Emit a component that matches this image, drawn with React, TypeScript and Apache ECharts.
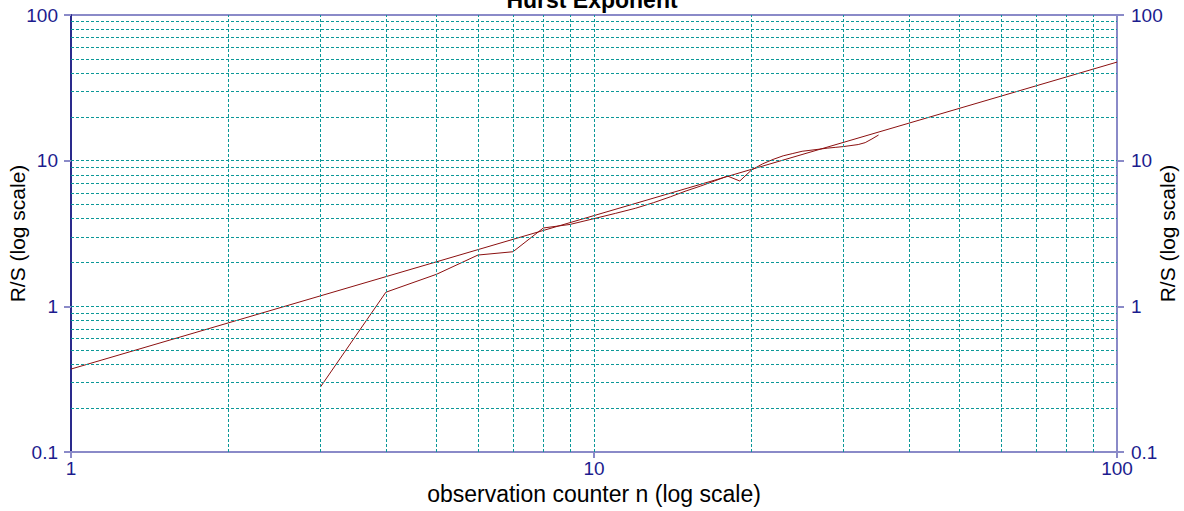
import React, { useEffect, useRef } from "react";
import * as echarts from "echarts";

const xTicks = [1, 10, 100];
const yTicks = [0.1, 1, 10, 100];
const xGrid = [2, 3, 4, 5, 6, 7, 8, 9, 10, 20, 30, 40, 50, 60, 70, 80, 90];
const yGrid = [0.2, 0.3, 0.4, 0.5, 0.6, 0.7, 0.8, 0.9, 1, 2, 3, 4, 5, 6, 7, 8, 9, 10, 20, 30, 40, 50, 60, 70, 80, 90];

const obsN = [3, 4, 5, 6, 7, 8, 9, 10, 11, 12, 13, 14, 15, 16, 17, 18, 19, 20, 21, 22, 23, 24, 25, 26, 27, 28, 29, 30, 31, 32, 33, 34, 35];
const obsRS = [0.28, 1.25, 1.66, 2.25, 2.37, 3.45, 3.65, 4.0, 4.35, 4.71, 5.15, 5.65, 6.2, 6.7, 7.25, 7.84, 7.25, 8.62, 9.5, 10.2, 10.8, 11.2, 11.6, 11.8, 12.0, 12.2, 12.35, 12.5, 12.7, 12.9, 13.3, 14.1, 15.0];

const fitN = [1, 100];
const fitRS = [0.371, 47.5];

const FONT = "Arial, 'Liberation Sans', sans-serif";
const LABEL_BLUE = "#1c1c8e";
const LAVENDER = "#8a8ac8";
const GRID_TEAL = "#0b9898";
const LINE_RED = "#8b1010";

export default function App() {
  const ref = useRef<HTMLDivElement>(null);
  useEffect(() => {
    if (!ref.current) return;
    const chart = echarts.init(ref.current, undefined, { renderer: "svg" });
    const gridLineStyle = { color: GRID_TEAL, width: 1, type: [3, 2] as any };
    const yAxisCommon = {
      type: "log" as const,
      logBase: 10,
      min: 0.1,
      max: 100,
      splitLine: { show: false },
      axisTick: { show: true, length: 7, lineStyle: { color: LAVENDER, width: 2 } },
      axisLabel: {
        color: LABEL_BLUE,
        fontSize: 19,
        fontFamily: FONT,
        margin: 13,
        formatter: (v: number) => (yTicks.includes(Number(v.toPrecision(3))) ? String(Number(v.toPrecision(3))) : ""),
      },
      name: "R/S (log scale)",
      nameLocation: "middle" as const,
      nameRotate: 90,
      nameMoveOverlap: false,
      nameTextStyle: { color: "#000", fontSize: 21, fontFamily: FONT },
    };
    chart.setOption({
      animation: false,
      backgroundColor: "#fff",
      grid: {
        left: 71,
        right: 67,
        top: 15,
        bottom: 59,
        containLabel: false,
        outerBoundsMode: "none",
        show: true,
        borderColor: LAVENDER,
        borderWidth: 2,
        backgroundColor: "transparent",
      },
      graphic: [
        {
          type: "text",
          left: "center",
          top: -12,
          style: {
            text: "Hurst Exponent",
            fontSize: 23,
            fontWeight: "bold",
            fontFamily: FONT,
            fill: "#000",
          },
        },
      ],
      xAxis: [
        {
          type: "log",
          logBase: 10,
          min: 1,
          max: 100,
          position: "bottom",
          splitLine: { show: false },
          axisLine: { lineStyle: { color: LAVENDER, width: 2 } },
          axisTick: { show: true, length: 6, lineStyle: { color: LAVENDER, width: 2 } },
          axisLabel: {
            color: LABEL_BLUE,
            fontSize: 19,
            fontFamily: FONT,
            margin: 7,
            formatter: (v: number) => (xTicks.includes(Math.round(v)) ? String(Math.round(v)) : ""),
          },
          name: "observation counter n (log scale)",
          nameLocation: "middle",
          nameGap: 30,
          nameMoveOverlap: false,
          nameTextStyle: { color: "#000", fontSize: 23, fontFamily: FONT },
        },
      ],
      yAxis: [
        {
          ...yAxisCommon,
          position: "left",
          nameGap: 43,
          axisLine: { show: true, lineStyle: { color: "#2a2a8c", width: 2 } },
        },
        {
          ...yAxisCommon,
          position: "right",
          nameGap: 40,
          axisLabel: { ...yAxisCommon.axisLabel, margin: 14 },
          axisLine: { show: true, lineStyle: { color: LAVENDER, width: 2 } },
        },
      ],
      series: [
        {
          type: "line",
          name: "grid",
          data: [],
          silent: true,
          markLine: {
            silent: true,
            symbol: "none",
            label: { show: false },
            lineStyle: gridLineStyle,
            data: [
              ...xGrid.map((v) => ({ xAxis: v })),
              ...yGrid.map((v) => ({ yAxis: v })),
            ],
          },
          z: 1,
        },
        {
          type: "line",
          name: "fit",
          data: fitN.map((n, i) => [n, fitRS[i]]),
          showSymbol: false,
          lineStyle: { color: LINE_RED, width: 1 },
          z: 3,
        },
        {
          type: "line",
          name: "R/S",
          data: obsN.map((n, i) => [n, obsRS[i]]),
          showSymbol: false,
          lineStyle: { color: LINE_RED, width: 1 },
          z: 3,
        },
      ],
    });
    return () => chart.dispose();
  }, []);
  return (
    <div
      ref={ref}
      style={{ position: "fixed", left: 0, top: 0, width: 1184, height: 511 }}
    />
  );
}
